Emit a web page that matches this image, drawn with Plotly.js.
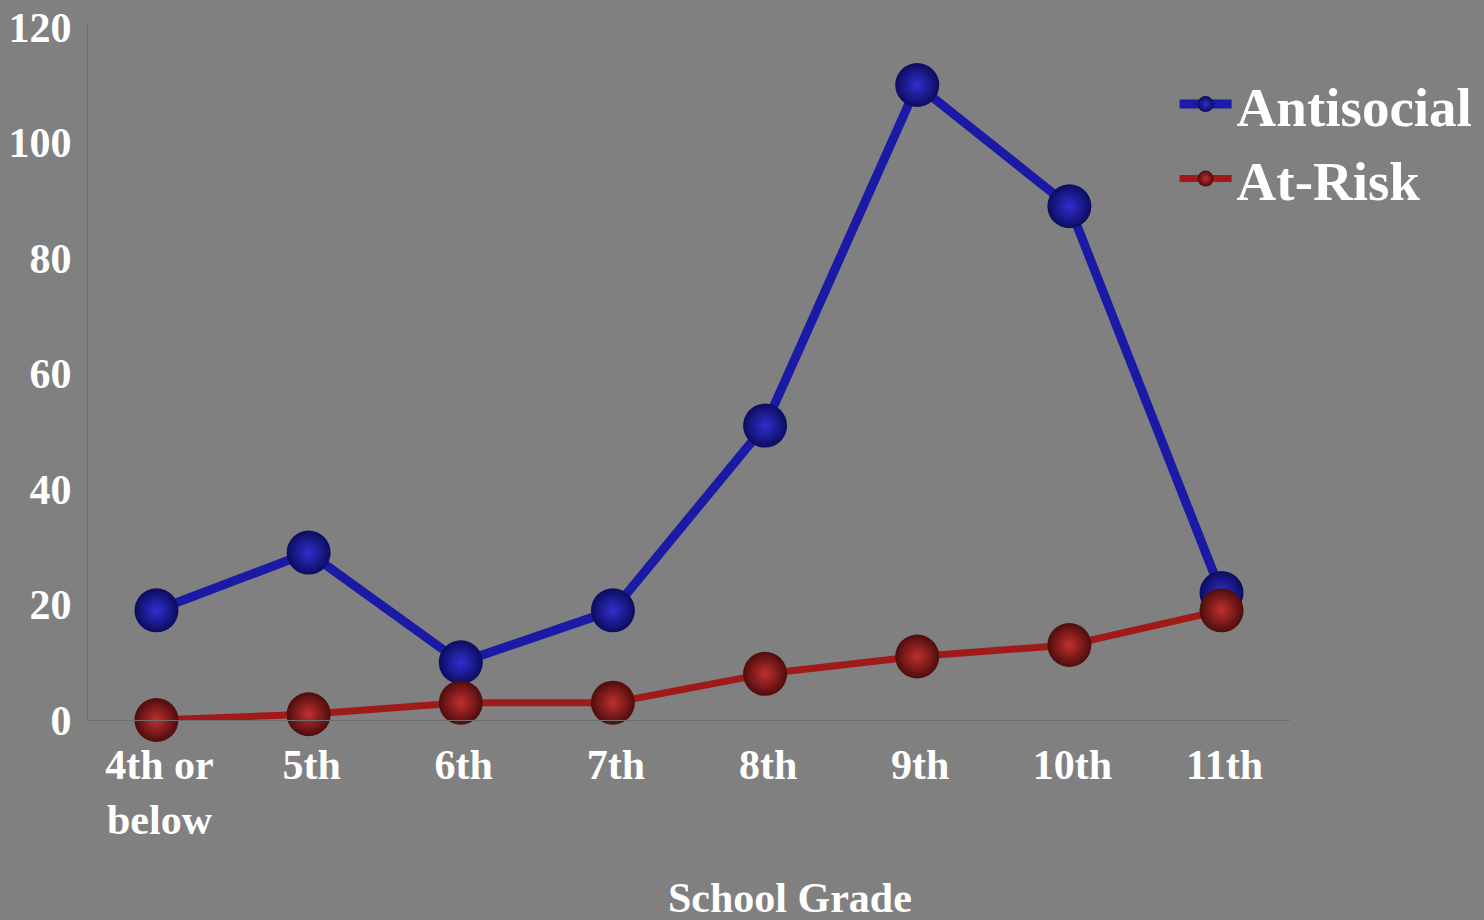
<!DOCTYPE html>
<html>
<head>
<meta charset="utf-8">
<script src="https://cdn.plot.ly/plotly-3.0.1.min.js"></script>
<style>html,body{margin:0;padding:0;background:#808080;}#chart{width:1484px;height:920px;}</style>
</head>
<body>
<div id="chart"></div>
<script>
const grades = ["4th or<br>below", "5th", "6th", "7th", "8th", "9th", "10th", "11th"];
const antisocial = [19, 29, 10, 19, 51, 110, 89, 22];
const atRisk = [0, 1, 3, 3, 8, 11, 13, 19];
const yTicks = [0, 20, 40, 60, 80, 100, 120];
const xTitle = "School Grade";

const serif = "Liberation Serif, Times New Roman, serif";

const traces = [
  {
    x: grades, y: antisocial, name: "Antisocial", type: "scatter", mode: "lines+markers",
    cliponaxis: false,
    line: {color: "#1a1aa6", width: 9},
    marker: {size: 44, color: "#0c0c5e", gradient: {type: "radial", color: "#2f2fd0"}, line: {width: 0}}
  },
  {
    x: grades, y: atRisk, name: "At-Risk", type: "scatter", mode: "lines+markers",
    cliponaxis: false,
    line: {color: "#a01a1a", width: 7},
    marker: {size: 44, color: "#4e0c0c", gradient: {type: "radial", color: "#c03030"}, line: {width: 0}}
  }
];

const layout = {
  width: 1484, height: 920,
  paper_bgcolor: "#808080", plot_bgcolor: "#808080",
  margin: {l: 88, r: 194, t: 25, b: 200, autoexpand: false},
  font: {family: serif, color: "#ffffff", weight: "bold"},
  showlegend: true,
  legend: {
    x: 0.904, y: 0.947, xanchor: "left", yanchor: "top",
    bgcolor: "rgba(0,0,0,0)",
    font: {family: serif, size: 55, color: "#ffffff", weight: "bold"},
    itemwidth: 52, tracegroupgap: 0
  },
  xaxis: {
    type: "category", range: [-0.45, 7.45],
    showgrid: false, zeroline: false, automargin: false,
    showline: true, linecolor: "#6e6e6e", linewidth: 1,
    ticks: "", ticklabelstandoff: 8, ticklabelshift: 3,
    tickfont: {family: serif, size: 42, color: "#ffffff", weight: "bold"}
  },
  yaxis: {
    range: [0, 120.4], tickvals: yTicks,
    showgrid: false, zeroline: false, automargin: false,
    showline: true, linecolor: "#6e6e6e", linewidth: 1,
    ticks: "", ticklabelstandoff: 7,
    tickfont: {family: serif, size: 42, color: "#ffffff", weight: "bold"}
  },
  annotations: [{
    text: xTitle, xref: "paper", yref: "paper", x: 0.584, y: -0.256,
    xanchor: "center", yanchor: "middle", showarrow: false,
    font: {family: serif, size: 42, color: "#ffffff", weight: "bold"}
  }]
};

Plotly.newPlot("chart", traces, layout, {displayModeBar: false});
</script>
</body>
</html>
